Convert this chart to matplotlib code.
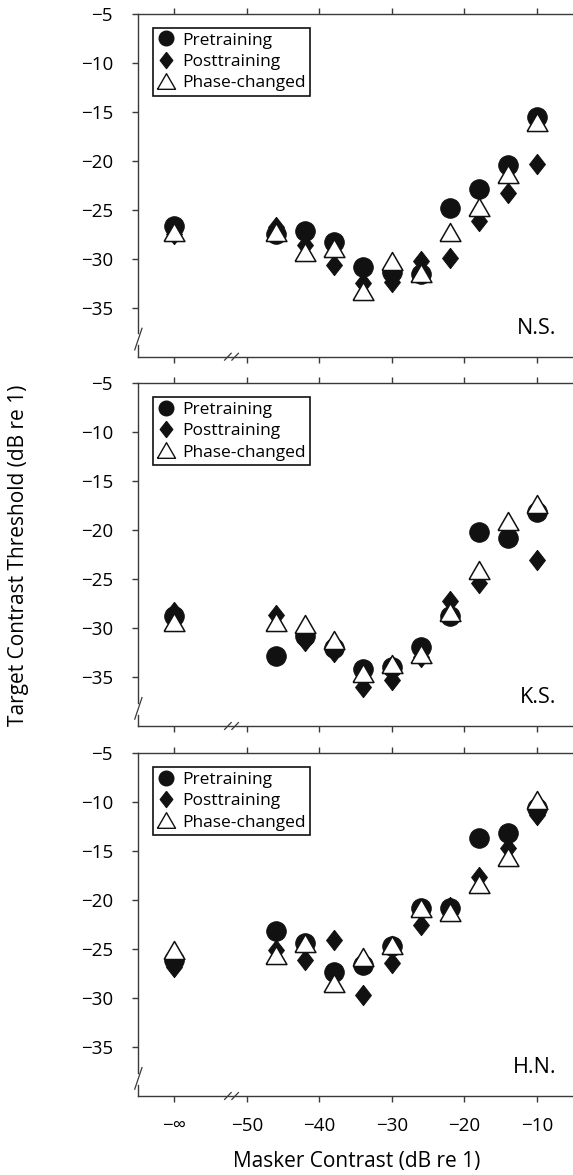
import numpy as np
import matplotlib
matplotlib.use("Agg")
import matplotlib.pyplot as plt
from matplotlib.lines import Line2D

plt.rcParams['font.family'] = ['Open Sans', 'DejaVu Sans']

# ---- data ----
# x positions: first column is the "-inf" masker condition, drawn at -60
masker_x = [-60, -46, -42, -38, -34, -30, -26, -22, -18, -14, -10]
xtick_pos = [-60, -50, -40, -30, -20, -10]
xtick_labels = ['\u2212\u221e', '\u221250', '\u221240', '\u221230', '\u221220', '\u221210']
ytick_pos = [-5, -10, -15, -20, -25, -30, -35]
ytick_labels = ['\u22125', '\u221210', '\u221215', '\u221220', '\u221225', '\u221230', '\u221235']
subjects = ['N.S.', 'K.S.', 'H.N.']

ns_pre   = [-26.7, -27.5, -27.2, -28.3, -30.8, -31.3, -31.6, -24.8, -22.9, -20.4, -15.5]
ns_post  = [-27.5, -26.8, -28.6, -30.6, -32.5, -32.4, -30.2, -29.9, -26.1, -23.3, -20.3]
ns_phase = [-27.3, -27.3, -29.3, -28.9, -33.3, -30.2, -31.5, -27.3, -24.7, -21.3, -16.0]

ks_pre   = [-28.8, -32.8, -30.8, -32.0, -34.2, -34.0, -31.9, -28.8, -20.2, -20.8, -18.1]
ks_post  = [-28.4, -28.7, -31.3, -32.4, -36.0, -35.3, -33.0, -27.2, -25.4, -20.5, -23.0]
ks_phase = [-29.4, -29.4, -29.6, -31.2, -34.6, -33.7, -32.6, -28.4, -24.1, -19.1, -17.3]

hn_pre   = [-26.1, -23.1, -24.4, -27.3, -26.6, -24.7, -20.85, -20.85, -13.7, -13.1, -10.6]
hn_post  = [-26.8, -25.1, -26.1, -24.1, -29.7, -26.4, -22.55, -20.7, -17.6, -14.7, -11.3]
hn_phase = [-25.1, -25.6, -24.4, -28.5, -25.8, -24.6, -20.85, -21.2, -18.3, -15.6, -9.8]

pre_all = [ns_pre, ks_pre, hn_pre]
post_all = [ns_post, ks_post, hn_post]
phase_all = [ns_phase, ks_phase, hn_phase]
series_names = ['Pretraining', 'Posttraining', 'Phase-changed']

# ---- marker shapes ----
diamond = [(0, 1), (0.78, 0), (0, -1), (-0.78, 0), (0, 1)]
tri = [(-1, -0.866), (1, -0.866), (0, 0.866), (-1, -0.866)]

W, H = 573, 1175
fig = plt.figure(figsize=(W / 100, H / 100), dpi=100)

spine_c = '#3a3a3a'
left_px = 138
tops_px = [14, 383.3, 753.3]
height_px = 342.7

axes = []
for i in range(3):
    bottom = 1 - (tops_px[i] + height_px) / H
    ax = fig.add_axes([left_px / W, bottom, (W - left_px) / W, height_px / H])
    axes.append(ax)
    ax.set_xlim(-65, -5)
    ax.set_ylim(-40, -5)
    ax.plot(masker_x, pre_all[i], linestyle='none', marker='o', ms=14,
            mfc='#111111', mec='#111111', mew=0.8, zorder=3, clip_on=False)
    ax.plot(masker_x, post_all[i], linestyle='none', marker=diamond, ms=14.5,
            mfc='#111111', mec='#111111', mew=0.8, zorder=4, clip_on=False)
    ax.plot(masker_x, phase_all[i], linestyle='none', marker=tri, ms=15,
            mfc='white', mec='#111111', mew=1.1, zorder=5, clip_on=False)

    ax.spines['right'].set_visible(False)
    ax.spines['left'].set_visible(False)
    for s in ['top', 'bottom']:
        ax.spines[s].set_color(spine_c)
        ax.spines[s].set_linewidth(1.0)

    # broken left spine
    ax.plot([-65, -65], [-5, -37.6], color=spine_c, lw=1.0, clip_on=False, zorder=6)
    ax.plot([-65, -65], [-38.85, -40], color=spine_c, lw=1.0, clip_on=False, zorder=6)
    ax.plot([-65.45, -64.45], [-39.3, -37.1], color=spine_c, lw=0.9, clip_on=False, zorder=6)
    # break marks on x axis
    for xb in (-52.6, -51.6):
        ax.plot([xb - 0.45, xb + 0.45], [-40.35, -39.65], color=spine_c, lw=0.9,
                clip_on=False, zorder=6)

    ax.set_xticks(xtick_pos)
    ax.set_yticks(ytick_pos)
    ax.set_yticklabels(ytick_labels)
    ax.tick_params(axis='y', direction='out', length=4, width=1.0, color=spine_c,
                   labelsize=13.5, pad=14, left=True, right=False)
    ax.tick_params(axis='x', direction='out', length=4, width=1.0, color=spine_c,
                   top=True, bottom=True, labeltop=False, labelsize=13.5, pad=11)
    if i < 2:
        ax.tick_params(axis='x', labelbottom=False)
    else:
        ax.set_xticklabels(xtick_labels)

    ax.text(-7.3, -37.1, subjects[i], ha='right', va='center', fontsize=15.5)

    handles = [
        Line2D([], [], linestyle='none', marker='o', ms=10.5, mfc='#111111', mec='#111111'),
        Line2D([], [], linestyle='none', marker=diamond, ms=11.5, mfc='#111111', mec='#111111'),
        Line2D([], [], linestyle='none', marker=tri, ms=13, mfc='white', mec='#111111', mew=1.0),
    ]
    leg = ax.legend(handles, series_names, loc='upper left',
                    bbox_to_anchor=(0.034, 0.959), fontsize=12.5, frameon=True,
                    fancybox=False, edgecolor='#111111', framealpha=1,
                    borderpad=0.25, labelspacing=0.3, handlelength=1.0,
                    handletextpad=0.45, borderaxespad=0)
    leg.get_frame().set_linewidth(1.2)

fig.text(19 / W, 1 - 555 / H, 'Target Contrast Threshold (dB re 1)', rotation=90,
         ha='center', va='center', fontsize=15)
fig.text(357 / W, 1 - 1161 / H, 'Masker Contrast (dB re 1)', ha='center',
         va='center', fontsize=15)

fig.savefig('out.png', dpi=100)
